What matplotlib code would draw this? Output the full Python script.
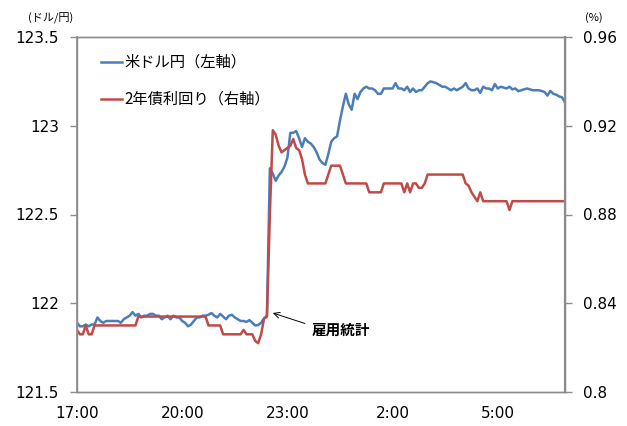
import numpy as np
import pandas as pd
import matplotlib
matplotlib.use("Agg")
import matplotlib.pyplot as plt
import matplotlib.dates as mdates
from matplotlib.ticker import FuncFormatter, MultipleLocator

# 5分足, 17:00開始 (日本時間)
START = "2015-11-06 17:00"

# 米ドル円 (左軸)
usdjpy = [
    121.89, 121.87, 121.87, 121.88, 121.87, 121.88, 121.88, 121.92, 121.90, 121.89,
    121.90, 121.90, 121.90, 121.90, 121.90, 121.89, 121.91, 121.92, 121.93, 121.95,
    121.93, 121.94, 121.92, 121.93, 121.93, 121.94, 121.94, 121.93, 121.93, 121.91,
    121.92, 121.93, 121.91, 121.93, 121.92, 121.92, 121.90, 121.89, 121.87, 121.88,
    121.90, 121.92, 121.92, 121.93, 121.93, 121.935, 121.945, 121.93, 121.92, 121.94,
    121.925, 121.91, 121.93, 121.935, 121.92, 121.91, 121.90, 121.90, 121.895, 121.905,
    121.89, 121.875, 121.877, 121.89, 121.915, 121.93, 122.76, 122.73, 122.69, 122.72,
    122.74, 122.77, 122.82, 122.96, 122.96, 122.97, 122.93, 122.88, 122.93, 122.91,
    122.90, 122.88, 122.85, 122.81, 122.79, 122.78, 122.84, 122.91, 122.93, 122.94,
    123.03, 123.11, 123.18, 123.12, 123.09, 123.18, 123.15, 123.19, 123.21, 123.22,
    123.21, 123.21, 123.20, 123.18, 123.18, 123.21, 123.21, 123.21, 123.21, 123.24,
    123.21, 123.21, 123.20, 123.22, 123.19, 123.21, 123.19, 123.20, 123.20, 123.22,
    123.24, 123.25, 123.245, 123.24, 123.23, 123.22, 123.22, 123.21, 123.20, 123.21,
    123.20, 123.21, 123.22, 123.24, 123.21, 123.20, 123.20, 123.21, 123.185, 123.22,
    123.21, 123.21, 123.20, 123.235, 123.21, 123.22, 123.215, 123.21, 123.22, 123.205,
    123.21, 123.195, 123.20, 123.205, 123.21, 123.205, 123.20, 123.20, 123.20, 123.196,
    123.19, 123.17, 123.196, 123.18, 123.175, 123.165, 123.16, 123.13,
]

# 米2年債利回り (右軸, %)
yield_2y = [
    0.828, 0.826, 0.826, 0.830, 0.826, 0.826, 0.830, 0.830, 0.830, 0.830,
    0.830, 0.830, 0.830, 0.830, 0.830, 0.830, 0.830, 0.830, 0.830, 0.830,
    0.830, 0.834, 0.834, 0.834, 0.834, 0.834, 0.834, 0.834, 0.834, 0.834,
    0.834, 0.834, 0.834, 0.834, 0.834, 0.834, 0.834, 0.834, 0.834, 0.834,
    0.834, 0.834, 0.834, 0.834, 0.834, 0.830, 0.830, 0.830, 0.830, 0.830,
    0.826, 0.826, 0.826, 0.826, 0.826, 0.826, 0.826, 0.828, 0.826, 0.826,
    0.826, 0.823, 0.822, 0.826, 0.833, 0.834, 0.880, 0.918, 0.916, 0.911,
    0.908, 0.909, 0.910, 0.911, 0.914, 0.910, 0.909, 0.905, 0.898, 0.894,
    0.894, 0.894, 0.894, 0.894, 0.894, 0.894, 0.898, 0.902, 0.902, 0.902,
    0.902, 0.898, 0.894, 0.894, 0.894, 0.894, 0.894, 0.894, 0.894, 0.894,
    0.890, 0.890, 0.890, 0.890, 0.890, 0.894, 0.894, 0.894, 0.894, 0.894,
    0.894, 0.894, 0.890, 0.894, 0.890, 0.894, 0.894, 0.892, 0.892, 0.894,
    0.898, 0.898, 0.898, 0.898, 0.898, 0.898, 0.898, 0.898, 0.898, 0.898,
    0.898, 0.898, 0.898, 0.894, 0.893, 0.890, 0.888, 0.886, 0.890, 0.886,
    0.886, 0.886, 0.886, 0.886, 0.886, 0.886, 0.886, 0.886, 0.882, 0.886,
    0.886, 0.886, 0.886, 0.886, 0.886, 0.886, 0.886, 0.886, 0.886, 0.886,
    0.886, 0.886, 0.886, 0.886, 0.886, 0.886, 0.886, 0.886,
]

tick_hours = ["17:00", "20:00", "23:00", "2:00", "5:00"]
label_usdjpy = "米ドル円（左軸）"
label_yield = "2年債利回り（右軸）"

BLUE = "#4a7ebb"
RED = "#be4b48"
AXIS_GRAY = "#8c8c8c"
JP_FONT = ["Noto Sans CJK JP", "DejaVu Sans"]

plt.rcParams["font.family"] = ["DejaVu Sans", "Noto Sans CJK JP"]

times = pd.date_range(START, periods=len(usdjpy), freq="5min")

fig = plt.figure(figsize=(6.27, 4.26), dpi=100)
ax = fig.add_axes([77 / 627, 1 - 392 / 426, 488 / 627, 355 / 426])
ax2 = ax.twinx()

l1, = ax.plot(times, usdjpy, color=BLUE, lw=1.8, solid_joinstyle="round")
l2, = ax2.plot(times, yield_2y, color=RED, lw=1.8, solid_joinstyle="round")

ax.set_xlim(times[0], times[-1])
ax.set_ylim(121.5, 123.5)
ax2.set_ylim(0.8, 0.96)
ax.yaxis.set_major_locator(MultipleLocator(0.5))
ax2.yaxis.set_major_locator(MultipleLocator(0.04))
fmt = FuncFormatter(lambda v, p: f"{round(v, 4):g}")
ax.yaxis.set_major_formatter(fmt)
ax2.yaxis.set_major_formatter(fmt)

# 3時間おきの目盛り
tick_pos = [t for t in times if f"{t.hour}:{t.minute:02d}" in tick_hours]
ax.set_xticks(tick_pos)
ax.set_xticklabels(tick_hours)

for a in (ax, ax2):
    for side in ("left", "right", "top", "bottom"):
        a.spines[side].set_color(AXIS_GRAY)
        a.spines[side].set_linewidth(1.0)
    a.tick_params(axis="y", colors=AXIS_GRAY, labelcolor="black",
                  labelsize=11, length=5, width=1.0, pad=8)
ax2.spines["right"].set_linewidth(1.6)
ax.spines["left"].set_linewidth(1.2)
ax.tick_params(axis="x", length=0, labelsize=11, pad=10)

# 単位
fig.text(28 / 627, 1 - 18 / 426, "(ドル/円)", fontsize=8, family=JP_FONT,
         va="center", ha="left")
fig.text(585 / 627, 1 - 18 / 426, "(%)", fontsize=8, family=JP_FONT,
         va="center", ha="left")

ax2.legend([l1, l2], [label_usdjpy, label_yield], loc="upper left",
           bbox_to_anchor=(101 / 627, 1 - 54 / 426), bbox_transform=fig.transFigure,
           frameon=False, prop={"family": JP_FONT, "size": 11},
           handlelength=1.4, handletextpad=0.15, labelspacing=1.3,
           borderpad=0, borderaxespad=0)

# 雇用統計発表
release = pd.Timestamp("2015-11-06 22:35")
ax.annotate("雇用統計", xy=(mdates.date2num(release), 121.945),
            xytext=(28, -12), textcoords="offset points",
            fontsize=10.5, fontweight="bold", family=JP_FONT,
            ha="left", va="center",
            arrowprops=dict(arrowstyle="->", lw=0.7, color="black",
                            relpos=(0, 0.75), shrinkA=3, shrinkB=0))

fig.savefig("out.png", dpi=100)
